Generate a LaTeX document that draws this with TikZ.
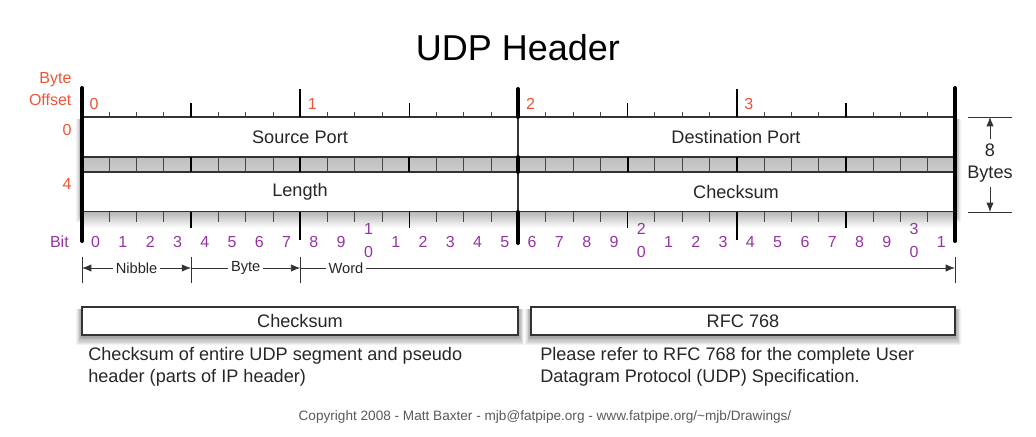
\documentclass[tikz,border=0pt]{standalone}
\usepackage{fontspec}
\setmainfont{Liberation Sans}
\usetikzlibrary{arrows.meta}
\definecolor{offred}{RGB}{238,84,56}
\definecolor{bitpurple}{RGB}{148,52,160}
\definecolor{tickgray}{RGB}{70,70,70}
\def\bw{27.281}
\newcommand\softshadow[4]{%
  \foreach \s in {8,...,1} {
    \pgfmathtruncatemacro\shd{5*(9-\s)}
    \fill[black!\shd] ({#1-\s*0.7},{#2+2}) rectangle ({#3+\s*0.7},{#4+\s*1.3});
  }}

\begin{document}
\begin{tikzpicture}[x=0.75pt, y=-0.75pt,
  fieldbox/.style={draw=black!80, fill=white, line width=0.8pt},
  lbl/.style={font=\fontsize{13.6}{16.5}\selectfont, text=black!85},
  offnum/.style={font=\fontsize{12}{15}\selectfont, text=offred, inner sep=1pt},
  bitnum/.style={font=\fontsize{12}{17}\selectfont, text=bitpurple, inner sep=0pt},
  span/.style={font=\fontsize{11}{13}\selectfont, text=black!85, inner sep=2pt},
  bar/.style={line width=3pt, black},
  tick/.style={line width=0.7pt, tickgray},
  majtick/.style={line width=1.6pt, black},
  dimline/.style={black!80, line width=0.6pt},
  dimarrow/.style={dimline, -{Latex[length=7pt,width=5.5pt]}}]
\useasboundingbox (0,0) rectangle (1036,436);
\node[font=\fontsize{27}{30}\selectfont] (title) at (518,48) {UDP Header};

\softshadow{82}{117}{955}{212}
\draw[fieldbox] (82,117) rectangle (955,157);
\draw[fieldbox] (82,172) rectangle (955,212);
\shade[top color=gray!50, middle color=gray!15, bottom color=gray!40] (82,157) rectangle (955,172);
\shade[top color=gray!55, bottom color=white] (82,212.5) rectangle (955,228);
\draw[black!80, line width=0.8pt] (82,157) -- (955,157) (82,172) -- (955,172);
\draw[black!80, line width=0.8pt] (518,117) -- (518,212);

\foreach \i in {1,...,31} {
  \draw[tick] ({82+\i*\bw},112) -- ({82+\i*\bw},117);
  \draw[tick] ({82+\i*\bw},157) -- ({82+\i*\bw},172);
  \draw[tick] ({82+\i*\bw},212) -- ({82+\i*\bw},222);
}
\foreach \i in {4,12,20,28} {
  \draw[majtick, line width=1.2pt] ({82+\i*\bw},103) -- ({82+\i*\bw},117);
  \draw[majtick] ({82+\i*\bw},157) -- ({82+\i*\bw},172);
  \draw[majtick, line width=1.2pt] ({82+\i*\bw},212) -- ({82+\i*\bw},228);
}
\foreach \i in {8,24} {
  \draw[majtick] ({82+\i*\bw},89) -- ({82+\i*\bw},117);
  \draw[majtick] ({82+\i*\bw},157) -- ({82+\i*\bw},172);
  \draw[majtick] ({82+\i*\bw},212) -- ({82+\i*\bw},240);
}
\draw[bar, line cap=round] (518,89) -- (518,117) (518,157) -- (518,172) (518,212) -- (518,243);
\draw[bar, line cap=round] (82,88) -- (82,241);
\draw[bar, line cap=round] (955,88) -- (955,241);

\node[lbl] (src) at (300,137) {Source Port};
\node[lbl] (dst) at (736,137) {Destination Port};
\node[lbl] (len) at (300,192) {Length};
\node[lbl] (cks) at (736,192) {Checksum};

\node[offnum, align=right, anchor=east, font=\fontsize{12}{16.5}\selectfont] (byteoff) at (73,89) {Byte\\Offset};
\node[offnum, anchor=east] (off0) at (73,130) {0};
\node[offnum, anchor=east] (off4) at (73,184) {4};
\foreach \k in {0,...,3}
  \node[offnum, anchor=west] (o\k) at ({82+\k*8*\bw+6},104) {\k};

\node[bitnum, anchor=east] (bit) at (69,242) {Bit};
\foreach \i in {0,...,31} {
  \pgfmathtruncatemacro\ones{mod(\i,10)}
  \pgfmathtruncatemacro\tens{\i/10}
  \ifnum\i>0 \ifnum\ones=0
    \node[bitnum, align=center] (b\i) at ({82+(\i+0.5)*\bw},240.5) {\tens\\0};
  \else
    \node[bitnum] (b\i) at ({82+(\i+0.5)*\bw},242) {\ones};
  \fi\else
    \node[bitnum] (b\i) at ({82+(\i+0.5)*\bw},242) {\ones};
  \fi
}

\coordinate (n0) at (82,268);
\coordinate (n1) at ({82+4*\bw},268);
\coordinate (n2) at ({82+8*\bw},268);
\coordinate (n3) at (955,268);
\foreach \c in {n0,n1,n2,n3}
  \draw[dimline] ([yshift=-11.5pt]\c) -- ([yshift=8.5pt]\c);
\node[span] (nib) at ({82+2*\bw},268) {Nibble};
\node[span] (byt) at ({82+6*\bw},268) {Byte};
\node[span] (wrd) at (346,268) {Word};
\draw[dimarrow] (nib) -- (n0);
\draw[dimarrow] (nib) -- (n1);
\draw[dimline] (n1) -- (byt);
\draw[dimarrow] (byt) -- (n2);
\draw[dimline] (n2) -- (wrd);
\draw[dimarrow] (wrd) -- (n3);

\coordinate (dimtop) at (990,117);
\coordinate (dimbot) at (990,212);
\draw[dimline] (968,117) -- (1012,117) (968,212) -- (1012,212);
\node[lbl, align=center] (bytes) at (990,163) {8\\Bytes};
\draw[dimarrow] (bytes) -- (dimtop);
\draw[dimarrow] (bytes) -- (dimbot);

\softshadow{82}{307}{518}{335}
\softshadow{531}{307}{955}{335}
\draw[fieldbox] (82,307) rectangle (518,335);
\draw[fieldbox] (531,307) rectangle (955,335);
\node[lbl] (ckbox) at (300,321) {Checksum};
\node[lbl] (rfcbox) at (743,321) {RFC 768};
\node[lbl, align=left, anchor=north west, inner sep=0pt] (ckdesc) at (88,347) {Checksum of entire UDP segment and pseudo\\header (parts of IP header)};
\node[lbl, align=left, anchor=north west, inner sep=0pt] (rfcdesc) at (540,347) {Please refer to RFC 768 for the complete User\\Datagram Protocol (UDP) Specification.};

\node[font=\fontsize{10.2}{12}\selectfont, text=black!65] (copy) at (545,417) {Copyright 2008 - Matt Baxter - mjb@fatpipe.org - www.fatpipe.org/\textasciitilde mjb/Drawings/};
\end{tikzpicture}
\end{document}
